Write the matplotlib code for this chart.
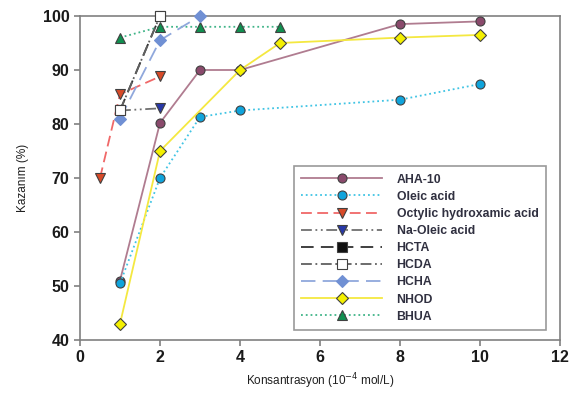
import matplotlib
matplotlib.use("Agg")
import matplotlib.pyplot as plt

plt.rcParams['font.family'] = ['Liberation Sans', 'DejaVu Sans']

aha_x = [1, 2, 3, 4, 8, 10]
aha_y = [51, 80.2, 90, 90, 98.5, 99]
oleic_x = [1, 2, 3, 4, 8, 10]
oleic_y = [50.5, 70, 81.3, 82.5, 84.5, 87.4]
octyl_x = [0.5, 1, 2]
octyl_y = [70, 85.5, 88.8]
naoleic_x = [1, 2]
naoleic_y = [82.5, 82.9]
hcta_x = [1, 2]
hcta_y = [82.5, 100]
hcda_x = [1, 2]
hcda_y = [82.5, 100]
hcha_x = [1, 2, 3]
hcha_y = [81, 95.5, 100]
nhod_x = [1, 2, 4, 5, 8, 10]
nhod_y = [43, 75, 90, 95, 96, 96.5]
bhua_x = [1, 2, 3, 4, 5]
bhua_y = [96, 98, 98, 98, 98]

fig = plt.figure(figsize=(5.78, 4.11), dpi=100)
ax = fig.add_axes([80/578, 1-340/411, 480/578, 324/411])

ms = 6.5
ec = '#404040'
kw = dict(lw=1.3, ms=ms, mec=ec, mew=0.8, clip_on=False)
ax.plot(aha_x, aha_y, '-', color='#b07c90', marker='o', mfc='#8a4a6c', label='AHA-10', zorder=3, **kw)
ax.plot(oleic_x, oleic_y, ':', color='#40c4e4', marker='o', mfc='#10a4dc', label='Oleic acid', zorder=4, **kw)
ax.plot(octyl_x, octyl_y, '--', color='#f06868', dashes=(6, 3), marker='v', mfc='#d84a28', label='Octylic hydroxamic acid', zorder=3, **kw)
ax.plot(naoleic_x, naoleic_y, color='#707070', dashes=(6, 2, 1, 2, 1, 2), marker='v', mfc='#2838a8', label='Na-Oleic acid', zorder=3, **kw)
ax.plot(hcta_x, hcta_y, color='#303030', dashes=(7, 4), marker='s', mfc='#101010', label='HCTA', zorder=3, **kw)
ax.plot(hcda_x, hcda_y, color='#606060', dashes=(6, 2, 1, 2), marker='s', mfc='white', label='HCDA', zorder=5, **kw)
kw2 = dict(kw)
kw2['mec'] = '#7090d4'
kw2['ms'] = ms - 0.5
ax.plot(hcha_x, hcha_y, color='#90a8dc', dashes=(8, 4), marker='D', mfc='#7090d4', label='HCHA', zorder=4, **kw2)
kw3 = dict(kw)
kw3['ms'] = ms - 0.5
ax.plot(nhod_x, nhod_y, '-', color='#f4e840', marker='D', mfc='#f4f000', label='NHOD', zorder=5, **kw3)
ax.plot(bhua_x, bhua_y, ':', color='#40b488', marker='^', mfc='#109050', label='BHUA', zorder=3, **kw)

ax.set_xlim(0, 12)
ax.set_ylim(40, 100)
ax.set_xticks(range(0, 13, 2))
ax.set_yticks(range(40, 101, 10))
for s in ax.spines.values():
    s.set_color('#808080')
    s.set_linewidth(1.2)
    s.set_zorder(2)
ax.tick_params(direction='out', length=4, color='#808080', width=1.2, labelsize=11.5, labelcolor='#1a1a1a')
for lab in ax.get_xticklabels() + ax.get_yticklabels():
    lab.set_fontweight('bold')

ax.set_xlabel('Konsantrasyon (10$^{-4}$ mol/L)', fontsize=8.5, labelpad=4, color='#202020')
ax.set_ylabel('Kazanım (%)', fontsize=8.5, labelpad=10, color='#202020')

leg = ax.legend(loc='lower right', bbox_to_anchor=(0.983, 0.012), frameon=True,
                fancybox=False, edgecolor='#808080', handlelength=6.6, labelspacing=0.42,
                borderpad=0.6, handletextpad=1.2, prop={'weight': 'bold', 'size': 8.8})
leg.get_frame().set_linewidth(1.2)
for t in leg.get_texts():
    t.set_color('#303040')

fig.savefig('out.png', dpi=100)
